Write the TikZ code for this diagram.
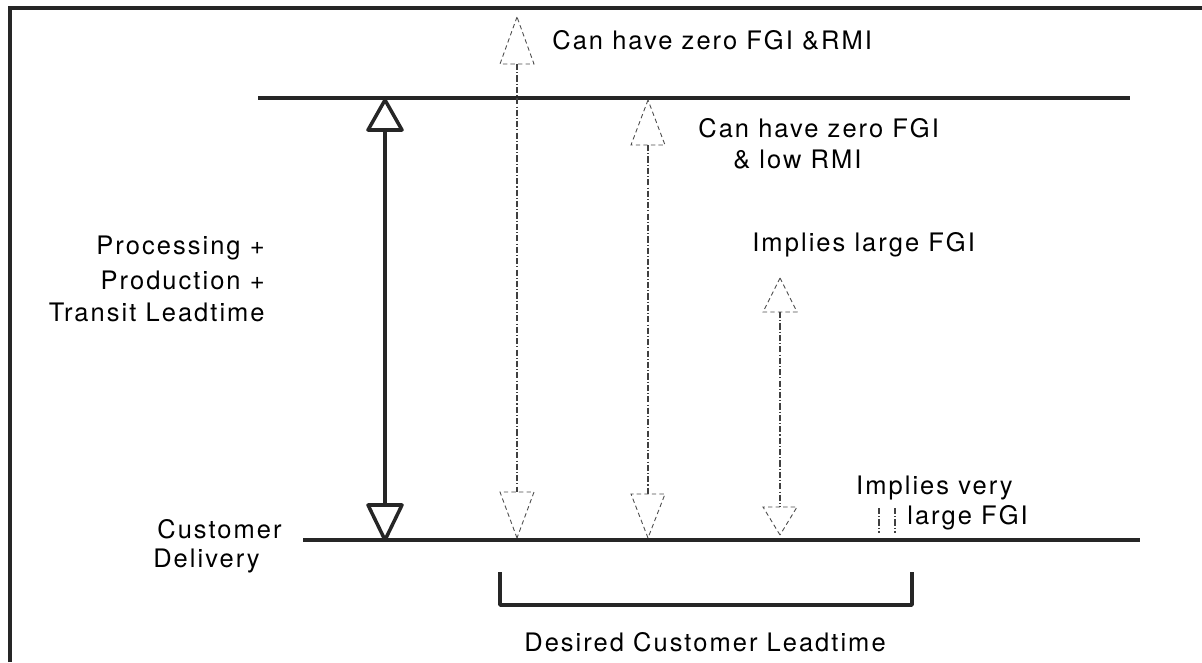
\documentclass[tikz,border=0pt]{standalone}
\usepackage{fontspec}
\setmainfont{TeX Gyre Heros}[LetterSpace=8]
\begin{document}
\begin{tikzpicture}[x=0.02cm,y=-0.02cm,
  rule/.style={line width=2pt,draw=black!85},
  shaft/.style={line width=2pt,draw=black!85},
  dshaft/.style={line width=0.6pt,draw=black!75,dash pattern=on 3.5pt off 1.2pt on 0.6pt off 1.2pt},
  headsolid/.style={line width=2pt,draw=black!85,line join=round},
  headdash/.style={line width=0.5pt,draw=black!70,dash pattern=on 2.5pt off 1.8pt},
  lbl/.style={inner sep=0pt,font=\fontsize{14.5}{17}\selectfont,text=black}]
\useasboundingbox (0,0) rectangle (1202,662);

% frame on the left and top edges
\draw[rule] (10,662) -- (10,8) -- (1202,8);

% the two time levels
\coordinate (topL) at (258,98);  \coordinate (topR) at (1130,98);
\coordinate (botL) at (303,540); \coordinate (botR) at (1140,540);
\draw[rule] (topL) -- (topR);
\draw[rule] (botL) -- (botR);

% solid double arrow: processing + production + transit leadtime
\coordinate (sA) at (385,100); \coordinate (sB) at (385,540);
\draw[shaft] (385,130) -- (385,505);
\draw[headsolid] (sA) -- (368,130) -- (402,130) -- cycle;
\draw[headsolid] (sB) -- (368,505) -- (402,505) -- cycle;

% dash-dotted double arrows
\coordinate (a1t) at (517,17);  \coordinate (a1b) at (517,538);
\draw[dshaft] (517,64) -- (517,492);
\draw[headdash] (a1t) -- (500,64) -- (534,64) -- cycle;
\draw[headdash] (a1b) -- (500,492) -- (534,492) -- cycle;

\coordinate (a2t) at (648,100); \coordinate (a2b) at (648,538);
\draw[dshaft] (648,145) -- (648,494);
\draw[headdash] (a2t) -- (631,145) -- (665,145) -- cycle;
\draw[headdash] (a2b) -- (631,494) -- (665,494) -- cycle;

\coordinate (a3t) at (780,278); \coordinate (a3b) at (780,535);
\draw[dshaft] (780,312) -- (780,507);
\draw[headdash] (a3t) -- (763,312) -- (797,312) -- cycle;
\draw[headdash] (a3b) -- (763,507) -- (797,507) -- cycle;

% two tiny marks for the very large FGI case
\draw[dshaft] (879,508) -- (879,533);
\draw[dshaft] (895,508) -- (895,533);

% bracket under the bottom line
\coordinate (brL) at (500,572); \coordinate (brR) at (912,572);
\draw[rule,line join=round] (brL) -- (500,605) -- (912,605) -- (brR);

% labels
\node[lbl,anchor=west] (t1) at (552,40) {Can have zero FGI \&RMI};
\node[lbl,anchor=west] (t2a) at (698,128) {Can have zero FGI};
\node[lbl,anchor=west] (t2b) at (733,160) {\& low RMI};
\node[lbl,anchor=west] (t3) at (752,245) {Implies large FGI};
\node[lbl,anchor=east] (t4a) at (1013,488) {Implies very};
\node[lbl,anchor=west] (t4b) at (907,518) {large FGI};
\node[lbl,anchor=east] (p1) at (265,248) {Processing +};
\node[lbl,anchor=east] (p2) at (265,280) {Production +};
\node[lbl,anchor=east] (p3) at (265,312) {Transit Leadtime};
\node[lbl,anchor=base east] (c1) at (282,538) {Customer};
\node[lbl,anchor=base east] (c2) at (260,567) {Delivery};
\node[lbl] (d1) at (705,642) {Desired Customer Leadtime};
\end{tikzpicture}
\end{document}
